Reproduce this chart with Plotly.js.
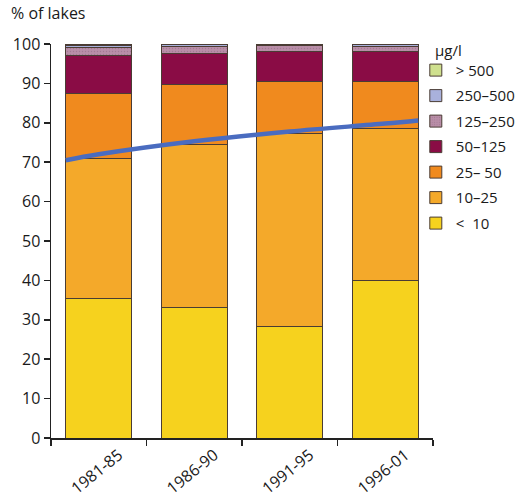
<!DOCTYPE html>
<html><head><meta charset="utf-8">
<script src="https://cdn.plot.ly/plotly-3.0.1.min.js"></script>
<style>html,body{margin:0;padding:0;background:#fff}#chart{width:521px;height:502px}</style>
</head><body><div id="chart"></div>
<script>
const categories = ["1981-85", "1986-90", "1991-95", "1996-01"];
const seriesNames = ["<  10", "10–25", "25– 50", "50–125", "125–250", "250–500", "> 500"];
const lt10 = [35.5, 33.0, 28.2, 40.1];
const r10_25 = [35.5, 41.4, 49.2, 38.5];
const r25_50 = [16.5, 15.2, 13.0, 11.8];
const r50_125 = [9.6, 8.0, 7.6, 7.6];
const r125_250 = [2.0, 1.7, 1.5, 1.4];
const r250_500 = [0.6, 0.5, 0.4, 0.4];
const gt500 = [0.3, 0.2, 0.1, 0.2];
const trendValues = [70.5, 72.0, 75.3, 77.8, 79.8, 80.6];
const yTicks = [0, 10, 20, 30, 40, 50, 60, 70, 80, 90, 100];

const colors = ["#f6d21e", "#f4a92a", "#f08a1e", "#8a0c45", "#b98ea8", "#a9b1dc", "#cfe08e"];
const seriesValues = [lt10, r10_25, r25_50, r50_125, r125_250, r250_500, gt500];
const barWidth = 0.69;
const font = "'Open Sans', Lato, sans-serif";

const traces = seriesValues.map((vals, i) => ({
  type: "bar", x: categories, y: vals, name: seriesNames[i],
  legendgroup: "g" + i, legendrank: 100 - i,
  width: barWidth,
  marker: {
    color: colors[i],
    line: {color: "#4a3c34", width: 1},
    pattern: i === 4 ? {shape: ".", fgcolor: "#8e6680", bgcolor: colors[i], fillmode: "overlay", size: 3, solidity: 0.2} : undefined
  },
  hoverinfo: "skip"
}));

// trend line: from left edge of first bar through centres to right edge of last bar
const n = categories.length;
const trendX = [-barWidth / 2].concat(categories.map((c, i) => i), [n - 1 + barWidth / 2]);
traces.push({
  type: "scatter", mode: "lines", x: trendX, y: trendValues, xaxis: "x2",
  line: {color: "#4a6cc0", width: 4.5, shape: "spline"}, showlegend: false, hoverinfo: "skip"
});

const layout = {
  width: 521, height: 502,
  margin: {l: 51, r: 88, t: 44, b: 64, autoexpand: false},
  paper_bgcolor: "#fff", plot_bgcolor: "#fff",
  barmode: "stack",
  font: {family: font, size: 16, color: "#1a1a1a"},
  xaxis: {
    type: "category", range: [-0.5, n - 0.5],
    showline: true, linecolor: "#222", linewidth: 1.5,
    ticks: "outside", tickson: "boundaries", ticklen: 6, tickcolor: "#222", tickwidth: 1.5,
    tickangle: -39, ticklabelshift: 20, tickfont: {size: 16}, showgrid: false, zeroline: false, fixedrange: true
  },
  xaxis2: {overlaying: "x", range: [-0.5, n - 0.5], visible: false, fixedrange: true},
  yaxis: {
    range: [0, 100], tickvals: yTicks, showline: true, linecolor: "#222", linewidth: 1.5,
    ticks: "outside", ticklen: 6, tickcolor: "#222", tickwidth: 1.5,
    showgrid: false, zeroline: false, tickfont: {size: 16}, fixedrange: true
  },
  legend: {
    x: 0.955, xanchor: "left", y: 0.975, yanchor: "top",
    traceorder: "grouped", font: {size: 15}, tracegroupgap: 3,
    itemwidth: 30, bgcolor: "rgba(0,0,0,0)"
  },
  annotations: [{
    text: "% of lakes", xref: "paper", yref: "paper", x: -0.11, y: 1.045,
    xanchor: "left", yanchor: "bottom", showarrow: false, font: {size: 16, color: "#1a1a1a"}
  }, {
    text: "µg/l", xref: "paper", yref: "paper", x: 1.0, y: 0.985,
    xanchor: "left", yanchor: "middle", showarrow: false, font: {size: 15, color: "#1a1a1a"}
  }]
};
Plotly.newPlot("chart", traces, layout, {displayModeBar: false, staticPlot: true});
</script></body></html>
